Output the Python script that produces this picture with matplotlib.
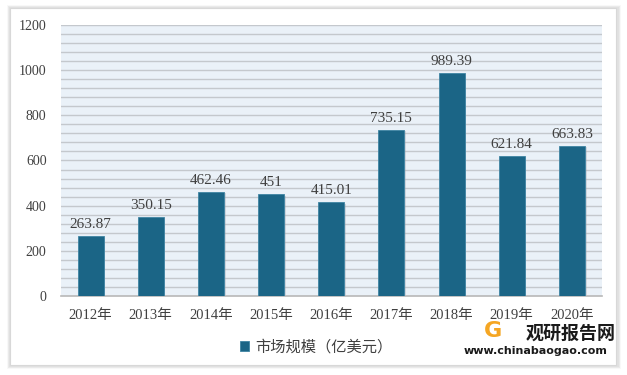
import matplotlib
matplotlib.use("Agg")
import matplotlib.pyplot as plt
from matplotlib.patches import Rectangle
import numpy as np

years = ["2012年", "2013年", "2014年", "2015年", "2016年", "2017年", "2018年", "2019年", "2020年"]
values = [263.87, 350.15, 462.46, 451, 415.01, 735.15, 989.39, 621.84, 663.83]
labels = ["263.87", "350.15", "462.46", "451", "415.01", "735.15", "989.39", "621.84", "663.83"]
series_name = "市场规模（亿美元）"

FONT = ["Liberation Serif", "Noto Sans CJK SC", "DejaVu Sans"]
plt.rcParams["font.family"] = FONT

fig = plt.figure(figsize=(6.27, 3.75), dpi=100)
fig.patch.set_facecolor("white")

# card shadow + frame
for i, a in enumerate([0.05, 0.05, 0.06, 0.08]):
    d = (4 - i) * 0.8
    fig.patches.append(Rectangle(((10 - d) / 627, 1 - (366 + d) / 375), (608 + 2 * d) / 627, (358 + 2 * d) / 375,
                                 transform=fig.transFigure, facecolor="#808080", alpha=a, edgecolor="none", zorder=0))
fig.patches.append(Rectangle((10 / 627, 1 - 365 / 375), 606 / 627, 357 / 375, transform=fig.transFigure,
                             facecolor="white", edgecolor="#d8d8d8", lw=0.8, zorder=1))

ax = fig.add_axes([60.5 / 627, 1 - 296 / 375, 541.5 / 627, 271 / 375])
ax.set_zorder(2)
ax.set_facecolor("#eaf1f8")
x = np.arange(len(years))
ax.set_xlim(-0.5, len(years) - 0.5)
ax.set_ylim(0, 1200)
for gy in np.arange(40, 1201, 40):
    ax.axhline(gy, color="#c4c8cd", lw=1.0, zorder=1)

# bar shadows
ax.bar(x + 0.03, values, width=0.43, color="#9aa3ab", alpha=0.35, zorder=2, bottom=-6)
bars = ax.bar(x, values, width=0.43, color="#1b6586", edgecolor="#3f84a3", lw=0.6, zorder=3, label=series_name)
for xi, v, lab in zip(x, values, labels):
    ax.text(xi, v + 22, lab, ha="center", va="bottom", fontsize=11, color="#404040", zorder=4)

ax.set_yticks(np.arange(0, 1201, 200))
ax.set_xticks(x)
ax.set_xticklabels(years)
ax.tick_params(axis="both", length=0, labelsize=10, colors="#404040")
ax.tick_params(axis="x", pad=9, labelsize=10.5)
ax.tick_params(axis="y", pad=10)
for s in ["top", "right", "left"]:
    ax.spines[s].set_visible(False)
ax.spines["bottom"].set_color("#b8b8b8")
ax.spines["bottom"].set_linewidth(1.2)

leg = fig.legend(handles=[bars], labels=[series_name], loc="center", bbox_to_anchor=(316 / 627, 1 - 347 / 375),
                 frameon=False, handlelength=0.6, handleheight=0.6, handletextpad=0.4,
                 prop={"family": ["Noto Sans CJK SC"], "size": 11})
for t in leg.get_texts():
    t.set_color("#404040")

# watermark
fig.text(571 / 627, 1 - 333 / 375, "观研报告网", ha="center", va="center", fontsize=13, fontweight="bold",
         color="#1a1a1a", family=["Noto Sans CJK SC"], zorder=5)
fig.text(536 / 627, 1 - 351 / 375, "www.chinabaogao.com", ha="center", va="center", fontsize=8, fontweight="bold",
         color="#1a1a1a", family=["DejaVu Sans"], zorder=5)
fig.text(493 / 627, 1 - 331 / 375, "G", ha="center", va="center", fontsize=16, fontweight="bold",
         color="#f5a623", family=["DejaVu Sans"], zorder=5)

fig.savefig("out.png", dpi=100)
